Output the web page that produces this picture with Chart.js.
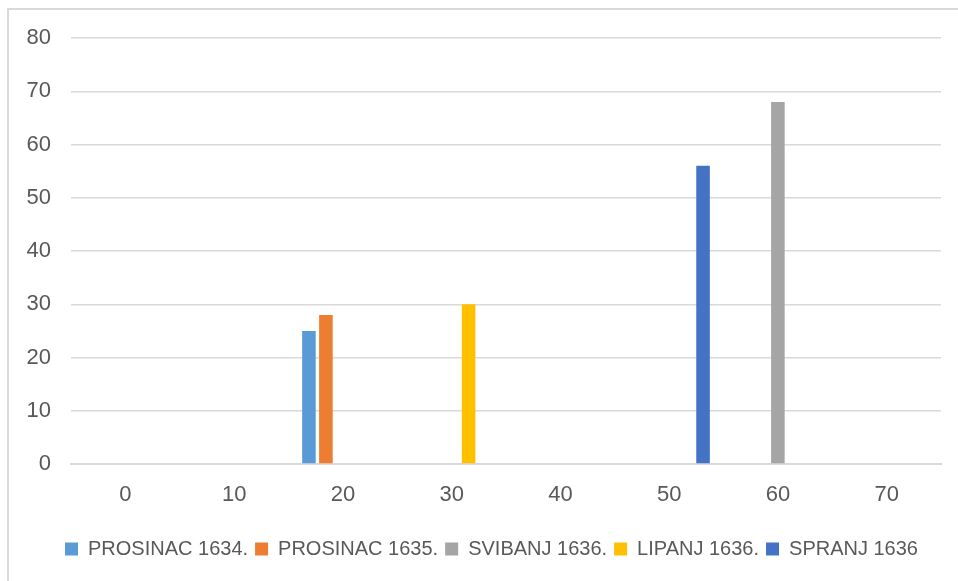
<!DOCTYPE html>
<html>
<head>
<meta charset="utf-8">
<script src="https://cdn.jsdelivr.net/npm/chart.js@4.4.1/dist/chart.umd.min.js"></script>
<style>
  html, body { margin: 0; padding: 0; background: #fff; overflow: hidden; }
  #frame { position: absolute; left: 7px; top: 8px; width: 1000px; height: 700px; border: 2px solid #d9d9d9; box-sizing: border-box; }
  #wrap { position: absolute; left: 0; top: 0; width: 958px; height: 581px; }
</style>
</head>
<body>
<div id="frame"></div>
<div id="wrap"><canvas id="chart"></canvas></div>
<script>
  const categories = ["0", "10", "20", "30", "40", "50", "60", "70"];
  const seriesNames = ["PROSINAC 1634.", "PROSINAC 1635.", "SVIBANJ 1636.", "LIPANJ 1636.", "SPRANJ 1636"];
  const prosinac1634 = [null, null, 25, null, null, null, null, null];
  const prosinac1635 = [null, null, 28, null, null, null, null, null];
  const svibanj1636 = [null, null, null, null, null, null, 68, null];
  const lipanj1636 = [null, null, null, 30, null, null, null, null];
  const spranj1636 = [null, null, null, null, null, 56, null, null];
  const yTicks = [0, 10, 20, 30, 40, 50, 60, 70, 80];

  const colors = ["#5b9bd5", "#ed7d31", "#a5a5a5", "#ffc000", "#4472c4"];
  const values = [prosinac1634, prosinac1635, svibanj1636, lipanj1636, spranj1636];
  const textColor = "#595959";
  const font = "'Liberation Sans', Arial, sans-serif";

  // legend in the original sits centred under the plot area, not the canvas
  const legendShift = {
    id: "legendShift",
    afterLayout(chart) {
      const lg = chart.legend;
      if (!lg) return;
      lg.left += 21;
      lg.right += 21;
    }
  };

  new Chart(document.getElementById("chart"), {
    type: "bar",
    data: {
      labels: categories,
      datasets: seriesNames.map((name, i) => ({
        label: name,
        data: values[i],
        backgroundColor: colors[i],
        borderWidth: 0,
        categoryPercentage: 0.78,
        barPercentage: 0.8
      }))
    },
    plugins: [legendShift],
    options: {
      responsive: true,
      maintainAspectRatio: false,
      animation: false,
      layout: { padding: { top: 38, right: 17, left: 0, bottom: 12 } },
      plugins: {
        tooltip: { enabled: false },
        legend: {
          position: "bottom",
          labels: {
            color: textColor,
            font: { family: font, size: 20 },
            boxWidth: 13,
            boxHeight: 13,
            padding: 7
          }
        }
      },
      scales: {
        x: {
          grid: { display: false },
          border: { display: true, color: "#d9d9d9", width: 2 },
          ticks: { color: textColor, font: { family: font, size: 22 }, padding: 10, maxRotation: 0 },
          afterFit: (s) => { s.height = 68; }
        },
        y: {
          min: 0,
          max: 80,
          afterBuildTicks: (s) => { s.ticks = yTicks.map((v) => ({ value: v })); },
          grid: { color: "#d9d9d9", lineWidth: 1.5, drawTicks: false },
          border: { display: false },
          ticks: { color: textColor, font: { family: font, size: 22 }, padding: 20 },
          afterFit: (s) => { s.width = 71; }
        }
      }
    }
  });
</script>
</body>
</html>
